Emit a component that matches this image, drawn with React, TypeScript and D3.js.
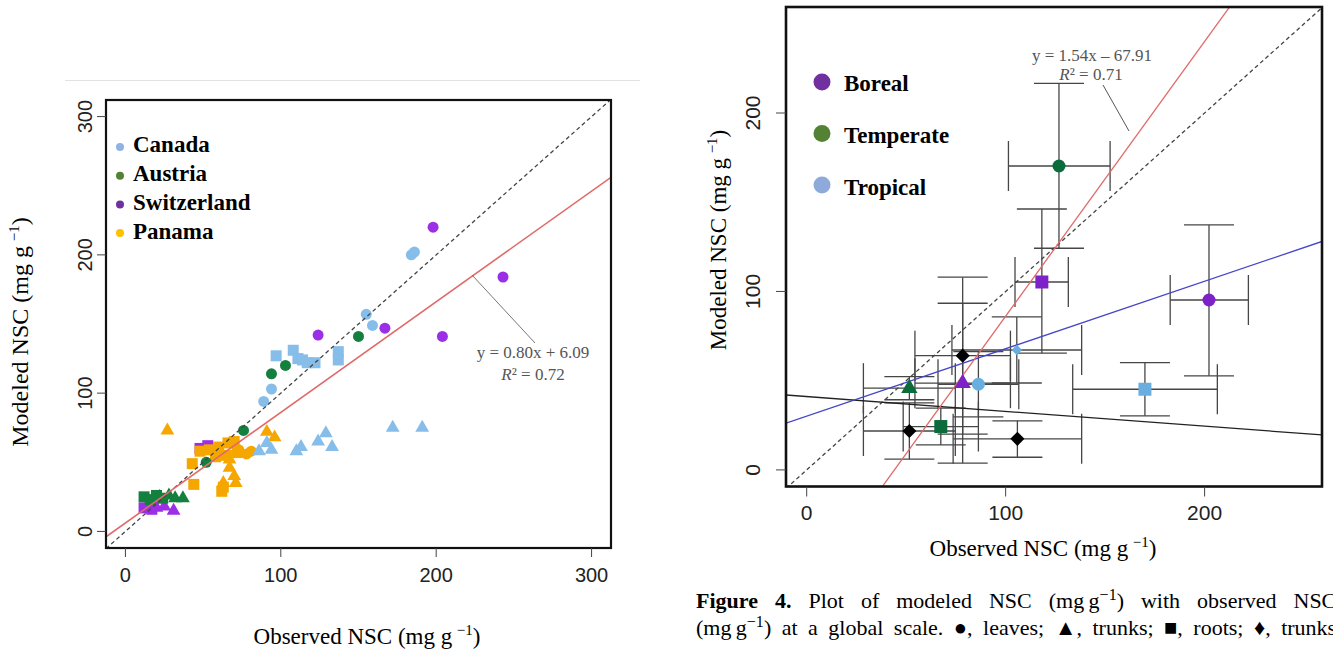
import React from "react";
import * as d3 from "d3";

const serif = "'Liberation Serif', 'Times New Roman', serif";
const sans = "'Liberation Sans', Arial, sans-serif";

// ---------- left panel: modeled vs observed NSC by site ----------
const leftTicks = [0, 100, 200, 300];
const siteNames = ["Canada", "Austria", "Switzerland", "Panama"];
const siteLegendColors = ["#8eb4e3", "#548235", "#7030a0", "#ffc000"];
const siteMarkColors = ["#86bde9", "#13803d", "#9b2fe6", "#f5a700"];

// [observed, modeled]
const canadaLeaves = [[89, 94], [94, 103], [155, 157], [159, 149], [184, 200], [186, 202]];
const canadaRoots = [[97, 127], [108, 131], [111, 125], [114, 124], [117, 122], [122, 122], [137, 130], [137, 124]];
const canadaTrunks = [[86, 58], [91, 64], [94, 59], [110, 58], [113, 61], [124, 65], [129, 71], [133, 61], [172, 75], [191, 75]];
const austriaLeaves = [[52, 50], [76, 73], [94, 114], [103, 120], [150, 141]];
const austriaRoots = [[12, 25], [16, 23], [20, 26], [24, 24]];
const austriaTrunks = [[22, 25], [28, 26], [32, 24], [37, 24]];
const switzLeaves = [[124, 142], [167, 147], [198, 220], [204, 141], [243, 184]];
const switzRoots = [[48, 60], [53, 62], [12, 17], [17, 16]];
const switzTrunks = [[20, 17], [25, 18], [31, 15], [14, 18]];
const panamaLeaves = [[73, 59], [78, 56], [81, 58]];
const panamaRoots = [[43, 49], [44, 34], [48, 58], [54, 59], [60, 61], [66, 64], [70, 65], [58, 54], [65, 55], [72, 57], [62, 29], [63, 32]];
const panamaTrunks = [[27, 73], [91, 72], [96, 68], [67, 46], [70, 40], [63, 35], [71, 35], [67, 52]];

// draw order: site index, organ, points
const leftSeries: [number, string, number[][]][] = [
  [2, "roots", switzRoots], [2, "trunks", switzTrunks], [2, "leaves", switzLeaves],
  [3, "roots", panamaRoots], [3, "trunks", panamaTrunks], [3, "leaves", panamaLeaves],
  [0, "roots", canadaRoots], [0, "trunks", canadaTrunks], [0, "leaves", canadaLeaves],
  [1, "roots", austriaRoots], [1, "trunks", austriaTrunks], [1, "leaves", austriaLeaves],
];
const leftFit = { slope: 0.8, intercept: 6.09, eq: "y = 0.80x + 6.09", r2: "0.72" };

// ---------- right panel: global scale with error bars ----------
const rightTicks = [0, 100, 200];
const climateNames = ["Boreal", "Temperate", "Tropical"];
const climateLegendColors = ["#7030a0", "#548235", "#8eaadb"];
const climateMarkColors: Record<string, string> = {
  Boreal: "#7d22c8",
  Temperate: "#0b6b3a",
  Tropical: "#6aaee0",
  Other: "#000000",
};

// [climate, organ, observed, modeled, obsLo, obsHi, modLo, modHi]
const rightRows: [string, string, number, number, number, number, number, number][] = [
  ["Temperate", "leaves", 126.8, 170.3, 101.4, 152.5, 124.2, 216.6],
  ["Boreal", "roots", 118.2, 105.3, 104.7, 131.5, 65.4, 146.2],
  ["Boreal", "leaves", 202.2, 95.2, 182.7, 222, 52.7, 137.3],
  ["Tropical", "roots", 170, 45.2, 133.7, 206.4, 30.3, 60.1],
  ["Tropical", "branch", 105.6, 67.2, 73, 138.2, 48.7, 85.7],
  ["Other", "branch", 78.4, 64, 54.4, 102.4, 20, 108],
  ["Boreal", "trunks", 78.4, 48.6, 54.4, 102.4, 3.8, 93.4],
  ["Tropical", "leaves", 86.3, 48, 66, 106.6, 29.7, 66.3],
  ["Temperate", "trunks", 51.6, 45.8, 28.5, 74.7, 39.3, 52.3],
  ["Temperate", "roots", 67.4, 24.3, 48.5, 86.3, 14, 34.6],
  ["Other", "branch", 51.6, 21.8, 28.5, 74.7, 6, 37.6],
  ["Other", "branch", 105.9, 17.4, 73.6, 138.2, 7.1, 27.5],
];
const rightFit = { slope: 1.54, intercept: -67.91, eq: "y = 1.54x \u2013 67.91", r2: "0.71" };
const blueFit = { slope: 0.378, intercept: 30.1 };
const blackFit = { slope: -0.083, intercept: 41.1 };

const sym = (type: d3.SymbolType, size: number) => d3.symbol().type(type).size(size)() as string;

function unitLabel(prefix: string) {
  return (
    <>
      {prefix} (mg g{"\u2009"}
      <tspan dy={-9} fontSize={15}>{"\u22121"}</tspan>
      <tspan dy={9}>)</tspan>
    </>
  );
}

function LeftPanel() {
  const x = d3.scaleLinear().domain([-12.5, 312.5]).range([106, 611]);
  const y = d3.scaleLinear().domain([-12, 312]).range([548, 100]);
  const [x0, x1] = x.range();
  const [y0, y1] = y.range();
  const shapes: Record<string, string> = {
    leaves: sym(d3.symbolCircle, 95),
    roots: sym(d3.symbolSquare, 121),
    trunks: sym(d3.symbolTriangle, 82),
  };
  const dom = x.domain();
  return (
    <g>
      <line x1={65} x2={640} y1={80.5} y2={80.5} stroke="#e2e2e2" />
      <clipPath id="clipL">
        <rect x={x0} y={y1} width={x1 - x0} height={y0 - y1} />
      </clipPath>
      <g>
        {leftSeries.map(([site, organ, pts], si) =>
          pts.map(([ox, oy], i) => (
            <path
              key={si + "-" + i}
              d={shapes[organ]}
              transform={`translate(${x(ox)},${y(oy)})`}
              fill={siteMarkColors[site]}
            />
          ))
        )}
      </g>
      <g clipPath="url(#clipL)">
        <line x1={x(dom[0])} y1={y(dom[0])} x2={x(dom[1])} y2={y(dom[1])} stroke="#444" strokeWidth={1.3} strokeDasharray="4 3" />
        <line
          x1={x(dom[0])}
          y1={y(leftFit.slope * dom[0] + leftFit.intercept)}
          x2={x(dom[1])}
          y2={y(leftFit.slope * dom[1] + leftFit.intercept)}
          stroke="#e06a6a"
          strokeWidth={1.6}
        />
      </g>
      <line x1={472} y1={275} x2={535} y2={343} stroke="#777" strokeWidth={1} />
      <text x={533} y={358} textAnchor="middle" fontFamily={serif} fontSize={17} fill="#555">{leftFit.eq}</text>
      <text x={533} y={380} textAnchor="middle" fontFamily={serif} fontSize={17} fill="#555">
        <tspan fontStyle="italic">R</tspan>{"\u00b2 = " + leftFit.r2}
      </text>
      <rect x={x0} y={y1} width={x1 - x0} height={y0 - y1} fill="none" stroke="#111" strokeWidth={2.2} />
      {leftTicks.map((t) => (
        <g key={"lx" + t}>
          <line x1={x(t)} x2={x(t)} y1={y0} y2={y0 + 9} stroke="#444" />
          <text x={x(t)} y={582} textAnchor="middle" fontFamily={sans} fontSize={20} fill="#222">{t}</text>
        </g>
      ))}
      {leftTicks.map((t) => (
        <g key={"ly" + t}>
          <line x1={x0 - 9} x2={x0} y1={y(t)} y2={y(t)} stroke="#444" />
          <text transform={`translate(92,${y(t)}) rotate(-90)`} textAnchor="middle" fontFamily={sans} fontSize={20} fill="#222">{t}</text>
        </g>
      ))}
      {siteNames.map((n, i) => (
        <g key={n}>
          <circle cx={120} cy={147 + i * 28.7} r={4} fill={siteLegendColors[i]} />
          <text x={133} y={152 + i * 29} fontFamily={serif} fontWeight="bold" fontSize={23}>{n}</text>
        </g>
      ))}
      <text transform="translate(28,332) rotate(-90)" textAnchor="middle" fontFamily={serif} fontSize={24}>
        {unitLabel("Modeled NSC")}
      </text>
      <text x={367} y={644} textAnchor="middle" fontFamily={serif} fontSize={23}>
        {unitLabel("Observed NSC")}
      </text>
    </g>
  );
}

function RightPanel() {
  const x = d3.scaleLinear().domain([-10.4, 259]).range([786, 1322]);
  const y = d3.scaleLinear().domain([-9.3, 259.4]).range([486.5, 7]);
  const [x0, x1] = x.range();
  const [y0, y1] = y.range();
  const dom = x.domain();
  const cap = 25;
  const shapes: Record<string, string> = {
    leaves: sym(d3.symbolCircle, 133),
    roots: sym(d3.symbolSquare, 169),
    trunks: sym(d3.symbolTriangle, 115),
  };
  const fitLine = (f: { slope: number; intercept: number }, color: string, key: string) => (
    <line
      key={key}
      x1={x(dom[0])}
      y1={y(f.slope * dom[0] + f.intercept)}
      x2={x(dom[1])}
      y2={y(f.slope * dom[1] + f.intercept)}
      stroke={color}
      strokeWidth={1.3}
    />
  );
  return (
    <g>
      <clipPath id="clipR">
        <rect x={x0} y={y1} width={x1 - x0} height={y0 - y1} />
      </clipPath>
      <g stroke="#333" strokeWidth={1.3} opacity={0.9}>
        {rightRows.map((r, i) => {
          const px = x(r[2]);
          const py = y(r[3]);
          const xl = x(r[4]);
          const xh = x(r[5]);
          const yl = y(r[6]);
          const yh = y(r[7]);
          return (
            <g key={"e" + i}>
              <line x1={px} x2={px} y1={yl} y2={yh} />
              <line x1={px - cap} x2={px + cap} y1={yl} y2={yl} />
              <line x1={px - cap} x2={px + cap} y1={yh} y2={yh} />
              <line x1={xl} x2={xh} y1={py} y2={py} />
              <line x1={xl} x2={xl} y1={py - cap} y2={py + cap} />
              <line x1={xh} x2={xh} y1={py - cap} y2={py + cap} />
            </g>
          );
        })}
      </g>
      <g clipPath="url(#clipR)">
        <line x1={x(dom[0])} y1={y(dom[0])} x2={x(dom[1])} y2={y(dom[1])} stroke="#444" strokeWidth={1.3} strokeDasharray="4 3" />
        {fitLine(blackFit, "#222", "k")}
        {fitLine(blueFit, "#4646c8", "b")}
        {fitLine(rightFit, "#e06a6a", "r")}
      </g>
      {rightRows.map((r, i) => {
        const t = `translate(${x(r[2])},${y(r[3])})`;
        const c = climateMarkColors[r[0]];
        if (r[1] === "branch") {
          const s = r[0] === "Other" ? 100 : 55;
          return <path key={"p" + i} d={sym(d3.symbolSquare, s)} transform={t + " rotate(45)"} fill={c} />;
        }
        return <path key={"p" + i} d={shapes[r[1]]} transform={t} fill={c} />;
      })}
      <line x1={1103} y1={85} x2={1129} y2={131} stroke="#555" strokeWidth={1} />
      <text x={1092} y={61} textAnchor="middle" fontFamily={serif} fontSize={17} fill="#555">{rightFit.eq}</text>
      <text x={1091} y={80} textAnchor="middle" fontFamily={serif} fontSize={17} fill="#555">
        <tspan fontStyle="italic">R</tspan>{"\u00b2 = " + rightFit.r2}
      </text>
      <rect x={x0} y={y1} width={x1 - x0} height={y0 - y1} fill="none" stroke="#111" strokeWidth={2.6} />
      {rightTicks.map((t) => (
        <g key={"rx" + t}>
          <line x1={x(t)} x2={x(t)} y1={y0} y2={y0 + 10} stroke="#444" />
          <text x={x(t)} y={520} textAnchor="middle" fontFamily={sans} fontSize={21} fill="#222">{t}</text>
        </g>
      ))}
      {rightTicks.map((t) => (
        <g key={"ry" + t}>
          <line x1={x0 - 10} x2={x0} y1={y(t)} y2={y(t)} stroke="#444" />
          <text transform={`translate(760,${y(t)}) rotate(-90)`} textAnchor="middle" fontFamily={sans} fontSize={21} fill="#222">{t}</text>
        </g>
      ))}
      {climateNames.map((n, i) => (
        <g key={n}>
          <circle cx={822} cy={82 + i * 51.5} r={8.5} fill={climateLegendColors[i]} />
          <text x={844} y={91 + i * 52} fontFamily={serif} fontWeight="bold" fontSize={23}>{n}</text>
        </g>
      ))}
      <text transform="translate(726,240) rotate(-90)" textAnchor="middle" fontFamily={serif} fontSize={23}>
        {unitLabel("Modeled NSC")}
      </text>
      <text x={1043} y={556} textAnchor="middle" fontFamily={serif} fontSize={23}>
        {unitLabel("Observed NSC")}
      </text>
    </g>
  );
}

function Caption() {
  return (
    <g fontFamily={serif} fontSize={22} fill="#000">
      <text x={696} y={608} wordSpacing={11.5}>
        <tspan fontWeight="bold">Figure 4.</tspan>
        {" Plot of modeled NSC (mg\u2009g"}
        <tspan dy={-8} fontSize={16}>{"\u22121"}</tspan>
        <tspan dy={8}>{") with observed NSC"}</tspan>
      </text>
      <text x={696} y={635} wordSpacing={5}>
        {"(mg\u2009g"}
        <tspan dy={-8} fontSize={16}>{"\u22121"}</tspan>
        <tspan dy={8}>{") at a global scale. \u25cf, leaves; \u25b2, trunks; \u25a0, roots; \u2666, trunks"}</tspan>
      </text>
    </g>
  );
}

export default function App() {
  return (
    <svg width={1333} height={650} style={{ position: "absolute", left: 0, top: 0, background: "#fff" }}>
      <rect width={1333} height={650} fill="#fff" />
      <LeftPanel />
      <RightPanel />
      <Caption />
    </svg>
  );
}
